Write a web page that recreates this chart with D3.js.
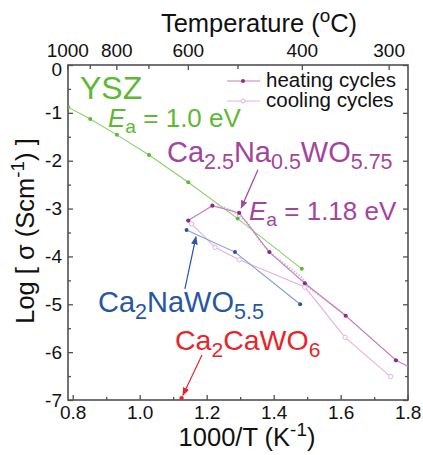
<!DOCTYPE html>
<html>
<head>
<meta charset="utf-8">
<script src="https://cdn.jsdelivr.net/npm/d3@7"></script>
<style>
  html, body { margin: 0; padding: 0; background: #fff; }
  svg text { font-family: "Liberation Sans", Arial, sans-serif; }
</style>
</head>
<body>
<div id="chart"></div>
<script>
// ############################################################################
// Arrhenius plot: conductivity of YSZ and Ca-Na tungstates
// ############################################################################

// ----------------------------------------------------------------------------
// Data (x = 1000/T in 1/K, y = log sigma in S/cm)
// ----------------------------------------------------------------------------

const yszX       = [0.786, 0.8525, 0.932, 1.028, 1.145, 1.2925, 1.484]
const yszY       = [-0.88, -1.13, -1.46, -1.88, -2.45, -3.21, -4.26]

const heatingX   = [1.145, 1.217, 1.297, 1.387, 1.493, 1.615, 1.765, 1.85]
const heatingY   = [-3.25, -2.94, -3.09, -3.91, -4.56, -5.24, -6.17, -6.47]

const coolingX   = [1.155, 1.225, 1.297, 1.493, 1.613, 1.749]
const coolingY   = [-3.32, -3.81, -4.07, -4.64, -5.69, -6.51]

// dense cooling run, reads as a dotted trace
const coolDenseX = [1.235, 1.275, 1.323, 1.364, 1.404, 1.443, 1.484, 1.508, 1.547, 1.588, 1.613]
const coolDenseY = [-2.93, -3.04, -3.30, -3.73, -4.01, -4.21, -4.44, -4.67, -4.87, -5.08, -5.22]

const naWoX      = [1.140, 1.2845, 1.479]
const naWoY      = [-3.45, -3.91, -5.00]

const caWoX      = [1.125]
const caWoY      = [-6.96]

// Axis ticks
const xMajor     = [0.8, 1.0, 1.2, 1.4, 1.6, 1.8]
const xMinor     = [0.9, 1.1, 1.3, 1.5, 1.7]
const yMajor     = [0, -1, -2, -3, -4, -5, -6, -7]
const yMinor     = [-0.5, -1.5, -2.5, -3.5, -4.5, -5.5, -6.5]
const tempMajor  = [1000, 800, 600, 400, 300]
const tempMinor  = [900, 700, 500]

// Arrow annotations [x1, y1, x2, y2] in data units
const arrowPurple = [1.353, -2.19, 1.303, -2.99]
const arrowBlue   = [1.135, -4.68, 1.168, -3.59]
const arrowRed    = [1.186, -6.06, 1.129, -6.90]

// ----------------------------------------------------------------------------
// Setup
// ----------------------------------------------------------------------------

const W = 423, H = 455
const plot = { left: 68, right: 408, top: 65, bottom: 400 }

const colors = {
  frame:   "#505050",
  green:   "#5fb834",
  greenLn: "#8fcf6a",
  purple:  "#a3459d",
  heatLn:  "#c27fbd",
  heatPt:  "#8e2b89",
  coolLn:  "#e3b2df",
  blue:    "#2856a6",
  blueLn:  "#7c9dd4",
  red:     "#e8252b"
}

const svg = d3.select("#chart").append("svg")
  .attr("width", W)
  .attr("height", H)

const x = d3.scaleLinear().domain([0.786, 1.801]).range([plot.left, plot.right])
const y = d3.scaleLinear().domain([-7, 0]).range([plot.bottom, plot.top])
const tempToX = t => x(1000 / (t + 273.15))

svg.append("defs").append("clipPath").attr("id", "clip")
  .append("rect")
  .attr("x", plot.left).attr("y", plot.top)
  .attr("width", plot.right - plot.left)
  .attr("height", plot.bottom - plot.top)

const arrowHead = (id, color) =>
  svg.select("defs").append("marker")
    .attr("id", id)
    .attr("viewBox", "0 0 10 10")
    .attr("refX", 9).attr("refY", 5)
    .attr("markerWidth", 7).attr("markerHeight", 7)
    .attr("orient", "auto")
    .append("path").attr("d", "M0,1 L10,5 L0,9 Z").attr("fill", color)

arrowHead("ahPurple", colors.purple)
arrowHead("ahBlue", colors.blue)
arrowHead("ahRed", colors.red)

// ----------------------------------------------------------------------------
// Axes (ticks pointing inward)
// ----------------------------------------------------------------------------

const tickFont = "19px"
const noDomain = g => g.select(".domain").remove()
const plain = d => String(d)           // hyphen minus, like the original

function axis(gen, tx, ty, values, size, fmt, pad)
{
  let g = svg.append("g")
    .attr("transform", `translate(${tx},${ty})`)
    .call(gen.tickValues(values).tickSize(-size).tickPadding(pad).tickFormat(fmt))
    .call(noDomain)
  g.selectAll("line").attr("stroke", colors.frame).attr("stroke-width", 1.3)
  g.selectAll("text").style("font-size", tickFont).attr("fill", "#111")
  return g
}

axis(d3.axisBottom(x), 0, plot.bottom, xMajor, 5, d3.format(".1f"), 6)
axis(d3.axisBottom(x), 0, plot.bottom, xMinor, 3, () => "", 6)
let yAxisLeft = axis(d3.axisLeft(y), plot.left, 0, yMajor, 5, plain, 6)
axis(d3.axisLeft(y), plot.left, 0, yMinor, 3, () => "", 6)
axis(d3.axisRight(y), plot.right, 0, yMajor, 5, () => "", 6)
axis(d3.axisRight(y), plot.right, 0, yMinor, 3, () => "", 6)

// the "0" label sits a little low in the original, under the "1000"
yAxisLeft.selectAll(".tick text").filter(d => d === 0).attr("dy", "0.55em")

function topAxis(values, size, labels)
{
  let g = svg.append("g").attr("transform", `translate(0,${plot.top})`)
  values.forEach(t => {
    g.append("line")
      .attr("x1", tempToX(t)).attr("x2", tempToX(t))
      .attr("y1", 0).attr("y2", size)
      .attr("stroke", colors.frame).attr("stroke-width", 1.3)
    if (labels)
      g.append("text")
        .attr("x", tempToX(t)).attr("y", -8)
        .attr("text-anchor", "middle")
        .style("font-size", tickFont).attr("fill", "#111")
        .text(t)
  })
}
topAxis(tempMajor, 5, true)
topAxis(tempMinor, 4, false)

svg.append("rect")
  .attr("x", plot.left).attr("y", plot.top)
  .attr("width", plot.right - plot.left)
  .attr("height", plot.bottom - plot.top)
  .attr("fill", "none")
  .attr("stroke", colors.frame)
  .attr("stroke-width", 1.6)

// ----------------------------------------------------------------------------
// Rich text helper (sub / superscripts, italics)
// ----------------------------------------------------------------------------

function richText(parent, px, py, parts, size, color, anchor)
{
  let text = parent.append("text")
    .attr("x", px).attr("y", py)
    .attr("fill", color)
    .attr("text-anchor", anchor || "start")
    .style("font-size", size + "px")
  let shift = 0
  parts.forEach(p => {
    let target = p.sub ? 0.24 * size : p.sup ? -0.4 * size : 0
    let ts = text.append("tspan").attr("dy", target - shift).text(p.t)
    if (p.sub || p.sup) ts.style("font-size", (size * 0.74) + "px")
    if (p.it) ts.style("font-style", "italic")
    shift = target
  })
  return text
}

// Axis titles
richText(svg, 259, 32, [{t: "Temperature ("}, {t: "o", sup: true}, {t: "C)"}], 25.5, "#111", "middle")
richText(svg, 247, 446, [{t: "1000/T (K"}, {t: "-1", sup: true}, {t: ")"}], 25.5, "#111", "middle")
richText(svg.append("g").attr("transform", "translate(34,231) rotate(-90)"), 0, 0,
  [{t: "Log [ \u03c3  (Scm"}, {t: "-1", sup: true}, {t: ") ]"}], 25.5, "#111", "middle")

// ----------------------------------------------------------------------------
// Data series
// ----------------------------------------------------------------------------

const data = svg.append("g").attr("clip-path", "url(#clip)")
const zip = (xs, ys) => xs.map((v, i) => [v, ys[i]])
const line = d3.line().x(d => x(d[0])).y(d => y(d[1]))

function series(xs, ys, lineColor, ptColor, open, r, dash)
{
  let pts = zip(xs, ys)
  let path = data.append("path")
    .attr("d", line(pts))
    .attr("fill", "none")
    .attr("stroke", lineColor)
    .attr("stroke-width", 1.1)
  if (dash) path.attr("stroke-dasharray", dash).attr("stroke-width", 1.8)
  if (r > 0)
    data.selectAll(null).data(pts).enter().append("circle")
      .attr("cx", d => x(d[0])).attr("cy", d => y(d[1]))
      .attr("r", r)
      .attr("fill", open ? "#fff" : ptColor)
      .attr("stroke", open ? lineColor : "none")
      .attr("stroke-width", 1)
}

series(yszX, yszY, colors.greenLn, colors.green, false, 2)
series(coolDenseX, coolDenseY, colors.coolLn, colors.coolLn, false, 0, "1.5,1.5")
series(coolingX, coolingY, colors.coolLn, colors.coolLn, true, 2.2)
series(heatingX, heatingY, colors.heatLn, colors.heatPt, false, 2.1)
series(naWoX, naWoY, colors.blueLn, colors.blue, false, 2)
series(caWoX, caWoY, colors.red, colors.red, false, 2.2)

// ----------------------------------------------------------------------------
// Annotations
// ----------------------------------------------------------------------------

function arrow(a, color, id)
{
  svg.append("line")
    .attr("x1", x(a[0])).attr("y1", y(a[1]))
    .attr("x2", x(a[2])).attr("y2", y(a[3]))
    .attr("stroke", color).attr("stroke-width", 1.2)
    .attr("marker-end", `url(#${id})`)
}
arrow(arrowPurple, colors.purple, "ahPurple")
arrow(arrowBlue, colors.blue, "ahBlue")
arrow(arrowRed, colors.red, "ahRed")

richText(svg, 80, 99, [{t: "YSZ"}], 32, colors.green)
richText(svg, 108, 127, [{t: "E", it: true}, {t: "a", sub: true}, {t: " = 1.0 eV"}], 26, colors.green)
richText(svg, 167, 162, [{t: "Ca"}, {t: "2.5", sub: true}, {t: "Na"}, {t: "0.5", sub: true},
  {t: "WO"}, {t: "5.75", sub: true}], 29, colors.purple)
richText(svg, 249, 220, [{t: "E", it: true}, {t: "a", sub: true}, {t: " = 1.18 eV"}], 26, colors.purple)
richText(svg, 98, 312, [{t: "Ca"}, {t: "2", sub: true}, {t: "NaWO"}, {t: "5.5", sub: true}], 29, colors.blue)
richText(svg, 175, 350, [{t: "Ca"}, {t: "2", sub: true}, {t: "CaWO"}, {t: "6", sub: true}], 28.5, colors.red)

// ----------------------------------------------------------------------------
// Legend
// ----------------------------------------------------------------------------

const legend = svg.append("g")
const legendRows = [
  { label: "heating cycles", color: colors.heatLn, pt: colors.heatPt, open: false, y: 81 },
  { label: "cooling cycles", color: colors.coolLn, pt: colors.coolLn, open: true,  y: 101 }
]
legendRows.forEach(r => {
  legend.append("line")
    .attr("x1", 227).attr("x2", 260)
    .attr("y1", r.y).attr("y2", r.y)
    .attr("stroke", r.color).attr("stroke-width", 1.1)
  legend.append("circle")
    .attr("cx", 243).attr("cy", r.y).attr("r", 2)
    .attr("fill", r.open ? "#fff" : r.pt)
    .attr("stroke", r.open ? r.color : "none")
  legend.append("text")
    .attr("x", 266).attr("y", r.y + 6)
    .style("font-size", "20.5px").attr("fill", "#111")
    .text(r.label)
})
</script>
</body>
</html>
